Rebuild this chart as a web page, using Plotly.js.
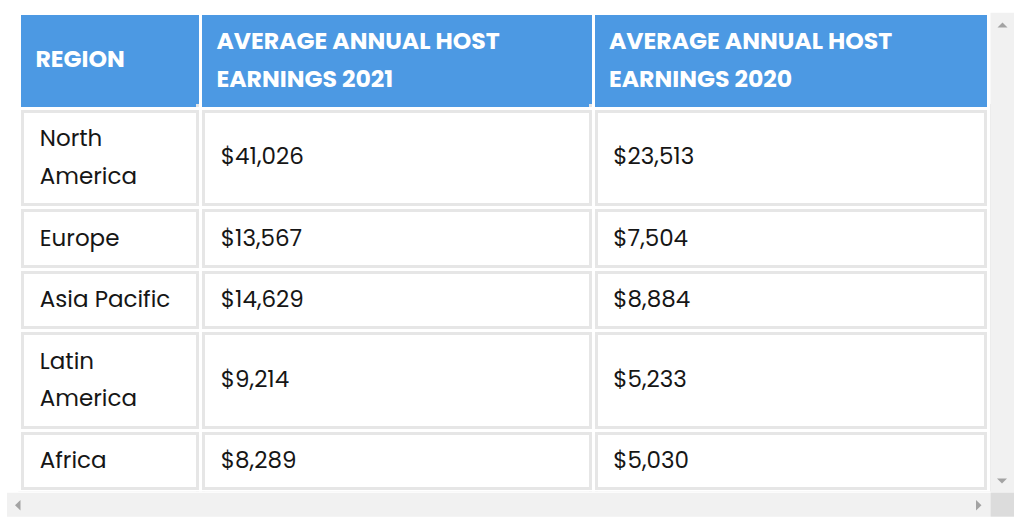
<!DOCTYPE html>
<html>
<head>
<meta charset="utf-8">
<script src="https://cdn.plot.ly/plotly-3.0.1.min.js"></script>
<style>
  html, body { margin: 0; padding: 0; background: #fff; }
  #chart { width: 1024px; height: 526px; }
</style>
</head>
<body>
<div id="chart"></div>
<script>
// table data
const headers = ['REGION', 'AVERAGE ANNUAL HOST<br>EARNINGS 2021', 'AVERAGE ANNUAL HOST<br>EARNINGS 2020'];
const regions = ['North<br>America', 'Europe', 'Asia Pacific', 'Latin<br>America', 'Africa'];
const earnings2021 = [41026, 13567, 14629, 9214, 8289];
const earnings2020 = [23513, 7504, 8884, 5233, 5030];

const W = 1024, H = 526;
function px(x) { return x / W; }
function py(y) { return 1 - y / H; }

const TEXT = 23;          // visible text size
const HEAD = 23.6;        // visible header size
const LINE = 29;          // text element size, only sets the line spacing (1.3em)
const FONT = 'Poppins, "Open Sans", sans-serif';
const NB = '\u00a0';

function span(str, size) {
  return '<span style="font-size:' + size + 'px">' + str + '</span>';
}
// plotly puts the top of the text box at the cell padding, so an empty
// glyph of a given size sets where the first baseline sits / how tall the row is
function strut(size) {
  return span(NB, size);
}

// lines: visible lines, top: strut on the first line, bottom: strut on the last
function cell(lines, indent, size, top, bottom) {
  const out = lines.map(function(l) { return span(indent + l, size); });
  out[0] += strut(top);
  if (lines.length > 1) out[out.length - 1] += strut(bottom);
  else out.push('');
  return out.join('<br>');
}

function money(v) {
  return '$' + v.toLocaleString('en-US');
}

const twoLine = regions.map(function(r) { return r.indexOf('<br>') >= 0; });

function valueText(v, i) {
  return cell([money(v)], NB + NB, TEXT, twoLine[i] ? 46 : 29);
}

const headerText = headers.map(function(h) {
  const lines = h.split('<br>');
  return cell(lines, NB + '\u200a\u200a', HEAD, lines.length > 1 ? 26 : 43, 24);
});
const cellText = [
  regions.map(function(r) { return cell(r.split('<br>'), NB + NB, TEXT, 28.5, 45); }),
  earnings2021.map(valueText),
  earnings2020.map(valueText)
];

const domain = { x: [px(19.5), px(988.5)], y: [py(492), py(13.5)] };

const gridTable = {
  type: 'table',
  columnwidth: [181, 392.5, 395.5],
  domain: domain,
  header: {
    values: headerText,
    align: 'left',
    height: 94.5,
    fill: { color: '#4c99e3' },
    line: { color: '#ffffff', width: 3 },
    font: { family: FONT, size: 29.5, color: '#ffffff', weight: 'bold' }
  },
  cells: {
    values: cellText,
    align: 'left',
    height: 61.5,
    fill: { color: '#ffffff' },
    line: { color: '#e6e6e6', width: 9 },
    font: { family: FONT, size: LINE, color: '#161616' }
  }
};

// same table again, only white gaps between the cell borders
const gapTable = JSON.parse(JSON.stringify(gridTable));
gapTable.header.fill.color = 'rgba(0,0,0,0)';
gapTable.header.font.color = 'rgba(0,0,0,0)';
gapTable.cells.fill.color = 'rgba(0,0,0,0)';
gapTable.cells.font.color = 'rgba(0,0,0,0)';
gapTable.cells.line = { color: '#ffffff', width: 3 };

function rect(x0, y0, x1, y1, color) {
  return {
    type: 'rect', xref: 'paper', yref: 'paper', layer: 'above',
    x0: px(x0), x1: px(x1), y0: py(y1), y1: py(y0),
    fillcolor: color, line: { width: 0 }
  };
}
function tri(points, color) {
  const d = points.map(function(p, i) {
    return (i ? 'L' : 'M') + px(p[0]) + ',' + py(p[1]);
  }).join(' ') + ' Z';
  return {
    type: 'path', xref: 'paper', yref: 'paper', layer: 'above',
    path: d, fillcolor: color, line: { width: 0 }
  };
}

// scroll bars of the page box
const shapes = [
  rect(12, 95, 18.4, 495, '#ffffff'),
  rect(990.5, 12.7, 1014, 492.7, '#f1f1f1'),
  rect(7, 492.7, 990.5, 516.7, '#f1f1f1'),
  rect(990.5, 492.7, 1014, 516.7, '#dcdcdc'),
  tri([[997.5, 27.5], [1007.5, 27.5], [1002.5, 22.5]], '#a3a3a3'),
  tri([[997, 478.5], [1007, 478.5], [1002, 483.5]], '#a3a3a3'),
  tri([[20.5, 500], [20.5, 510.5], [15, 505.3]], '#a3a3a3'),
  tri([[976, 500], [976, 510.5], [981.5, 505.3]], '#a3a3a3')
];

const layout = {
  width: W,
  height: H,
  margin: { l: 0, r: 0, t: 0, b: 0 },
  paper_bgcolor: '#ffffff',
  showlegend: false,
  shapes: shapes
};

Plotly.newPlot('chart', [gridTable, gapTable], layout, { displayModeBar: false, staticPlot: true });
</script>
</body>
</html>
